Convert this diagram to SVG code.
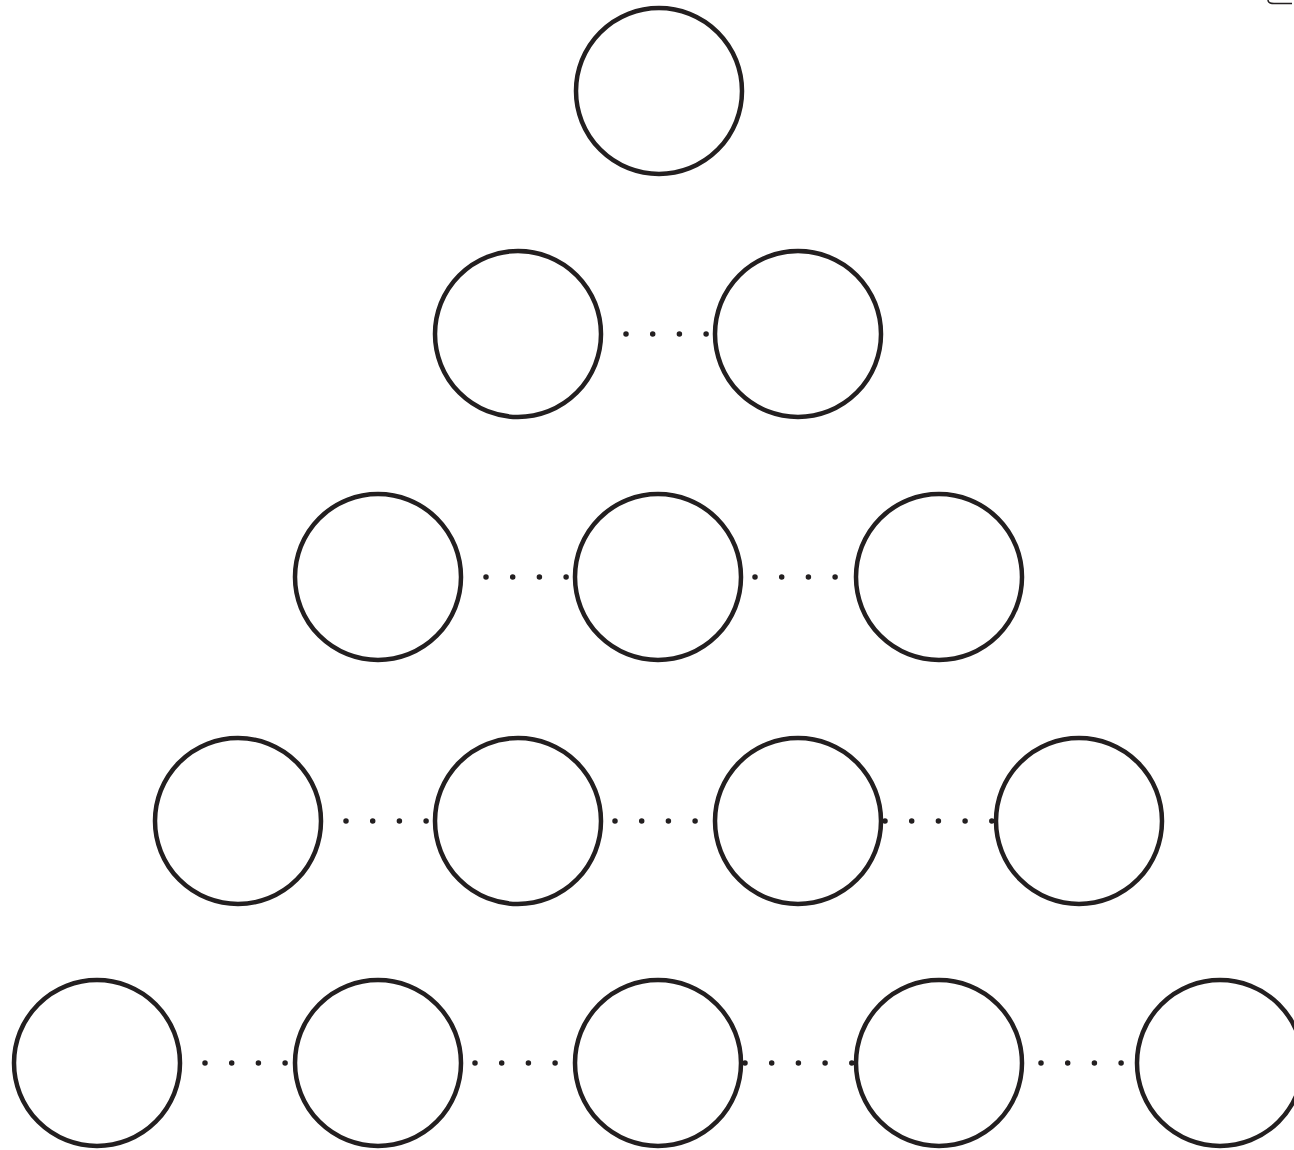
<svg xmlns="http://www.w3.org/2000/svg" width="1294" height="1150" viewBox="0 0 1294 1150">
<style>
.n{fill:none;stroke:#231f20;stroke-width:4.5}
.d{fill:none;stroke:#231f20;stroke-width:5.5;stroke-linecap:round;stroke-dasharray:0 26.7}
</style>
<rect width="1294" height="1150" fill="#fff"/>
<g id="connectors">
<line class="d" x1="626" y1="334" x2="710" y2="334"/>
<line class="d" x1="486" y1="577" x2="568" y2="577"/>
<line class="d" x1="755" y1="577" x2="837" y2="577"/>
<line class="d" x1="346" y1="821" x2="428" y2="821"/>
<line class="d" x1="615" y1="821" x2="697" y2="821"/>
<line class="d" x1="885" y1="821" x2="993" y2="821"/>
<line class="d" x1="205" y1="1063" x2="287" y2="1063"/>
<line class="d" x1="475" y1="1063" x2="557" y2="1063"/>
<line class="d" x1="745" y1="1063" x2="853" y2="1063"/>
<line class="d" x1="1041" y1="1063" x2="1123" y2="1063"/>
</g>
<g id="n1"><circle class="n" cx="659" cy="91" r="83"/></g>
<g id="n2"><circle class="n" cx="518" cy="334" r="83"/></g>
<g id="n3"><circle class="n" cx="798" cy="334" r="83"/></g>
<g id="n4"><circle class="n" cx="378" cy="577" r="83"/></g>
<g id="n5"><circle class="n" cx="658" cy="577" r="83"/></g>
<g id="n6"><circle class="n" cx="939" cy="577" r="83"/></g>
<g id="n7"><circle class="n" cx="238" cy="821" r="83"/></g>
<g id="n8"><circle class="n" cx="518" cy="821" r="83"/></g>
<g id="n9"><circle class="n" cx="798" cy="821" r="83"/></g>
<g id="n10"><circle class="n" cx="1079" cy="821" r="83"/></g>
<g id="n11"><circle class="n" cx="97" cy="1063" r="83"/></g>
<g id="n12"><circle class="n" cx="378" cy="1063" r="83"/></g>
<g id="n13"><circle class="n" cx="658" cy="1063" r="83"/></g>
<g id="n14"><circle class="n" cx="939" cy="1063" r="83"/></g>
<g id="n15"><circle class="n" cx="1220" cy="1063" r="83"/></g>
<path d="M1268,0 Q1268,3.5 1274,3.5 L1292,3.5" fill="none" stroke="#231f20" stroke-width="1.5"/>
</svg>
